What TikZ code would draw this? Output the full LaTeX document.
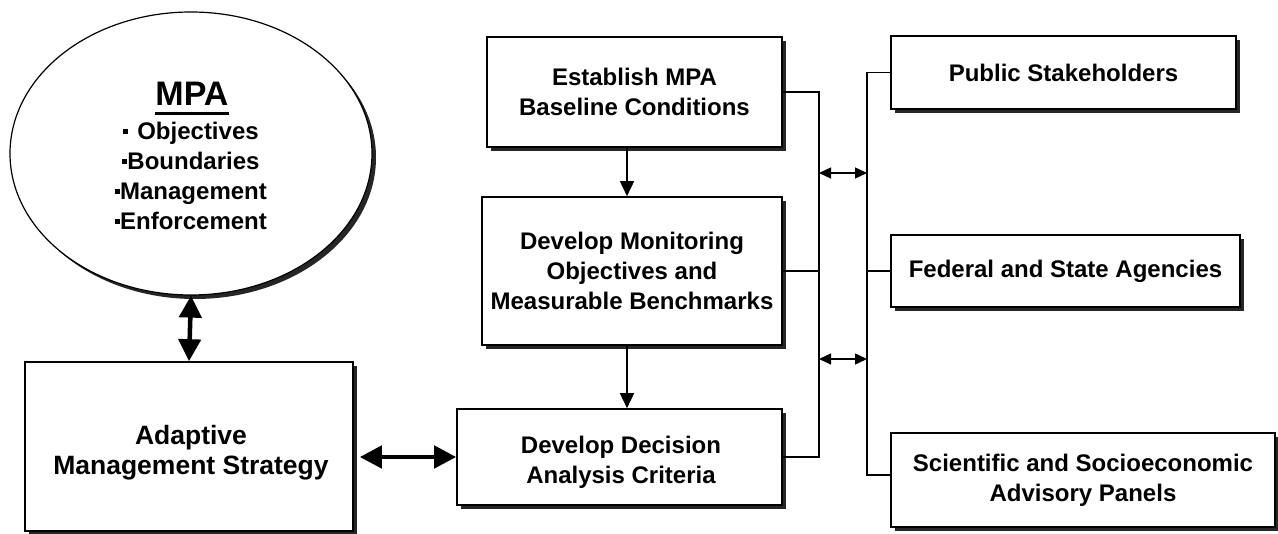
\documentclass[tikz,border=0pt]{standalone}
\usepackage{fontspec}
\setmainfont{Liberation Sans}
\usetikzlibrary{arrows.meta,shadows,shapes.geometric}
\newcommand\mpasq{\raisebox{5.5pt}{\rule{5pt}{5pt}}}
\begin{document}
\begin{tikzpicture}[x=1pt,y=-1pt,
  shd/.style={drop shadow={shadow xshift=4pt,shadow yshift=-4pt,fill=black!85,opacity=1}},
  box/.style={draw,rectangle,line width=1.6pt,fill=white,align=center,inner sep=0pt,
    font=\bfseries\fontsize{24}{30}\selectfont,shd},
  conn/.style={line width=1.4pt},
  bigarrow/.style={line width=4.5pt,{Triangle[length=22pt,width=22pt]}-{Triangle[length=22pt,width=22pt]}},
  downarrow/.style={line width=1.6pt,-{Triangle[length=15pt,width=14pt]}},
  smallarrow/.style={line width=1.4pt,{Triangle[length=12pt,width=11pt]}-{Triangle[length=12pt,width=11pt]}},
  txt/.style={font=\bfseries\fontsize{24}{30}\selectfont,align=center,inner sep=0pt}
]
\useasboundingbox[fill=white] (0,0) rectangle (1278,534);

% ellipse
\node[draw,ellipse,line width=1.2pt,fill=white,shd,minimum width=362pt,minimum height=283pt,inner sep=0pt] (ell) at (191,153.5) {};
\node[txt,font=\bfseries\fontsize{34}{34}\selectfont,anchor=base] (mpa) at (192,106) {MPA};
\draw[line width=2.5pt] ([yshift=-7.5pt]mpa.base west) -- ([yshift=-7.5pt]mpa.base east);
\node[txt,anchor=center] (lst) at (191,176) {\mpasq\hspace{9pt}Objectives\\\mpasq Boundaries\\\mpasq Management\\\mpasq Enforcement};

% boxes
\node[box,minimum width=328pt,minimum height=169pt] (ada) at (189,446.5) {};
\node[txt,font=\bfseries\fontsize{26.5}{30}\selectfont] (adat) at (191,453) {Adaptive\\Management Strategy};
\node[box,minimum width=295pt,minimum height=110pt] (est) at (634.5,92) {Establish MPA\\Baseline Conditions};
\node[box,minimum width=300pt,minimum height=148pt] (mon) at (632,271) {Develop Monitoring\\Objectives and\\Measurable Benchmarks};
\node[box,minimum width=325pt,minimum height=96pt] (dec) at (619.5,457) {};
\node[txt] (dect) at (621,462) {Develop Decision\\Analysis Criteria};
\node[box,minimum width=345pt,minimum height=73pt] (pub) at (1063.5,72.5) {Public Stakeholders};
\node[box,minimum width=349pt,minimum height=72pt] (fed) at (1065.5,271) {Federal and State Agencies};
\node[box,minimum width=384pt,minimum height=94pt] (sci) at (1083,480) {Scientific and Socioeconomic\\Advisory Panels};

% coordinates
\coordinate (ax) at (627,0);
\coordinate (lx) at (819,0);
\coordinate (rx) at (867,0);
\coordinate (ya) at (0,173);
\coordinate (yb) at (0,359);
\coordinate (ysci) at (0,475);

% arrows
\draw[bigarrow] (ell.south) -- (ada.north);
\draw[bigarrow,shorten <=6pt] (ada.east |- dec.west) -- (dec.west);
\draw[downarrow] (est.south -| ax) -- (mon.north -| ax);
\draw[downarrow] (mon.south -| ax) -- (dec.north -| ax);

% bracket connectors
\draw[conn] (est.east) -- (est.east -| lx) -- (dec.east -| lx) -- (dec.east);
\draw[conn] (mon.east) -- (mon.east -| lx);
\draw[conn] (pub.west) -- (pub.west -| rx) -- (rx |- ysci) -- (sci.west |- ysci);
\draw[conn] (fed.west) -- (fed.west -| rx);
\draw[smallarrow] (lx |- ya) -- (rx |- ya);
\draw[smallarrow] (lx |- yb) -- (rx |- yb);
\end{tikzpicture}
\end{document}
